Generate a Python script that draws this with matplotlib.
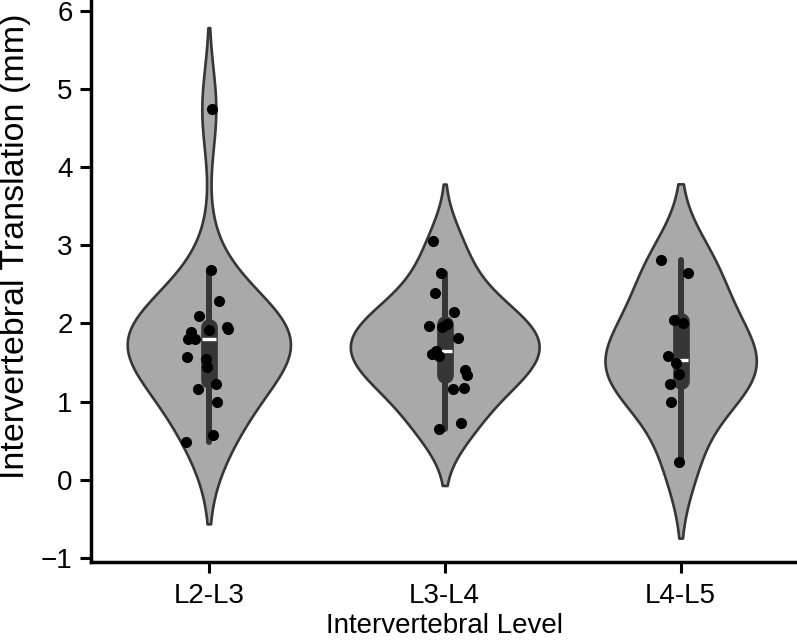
import numpy as np
import pandas as pd
import matplotlib
matplotlib.use("Agg")
import matplotlib.pyplot as plt
import seaborn as sns

# Valores (mm)
niveles = ["L2-L3", "L3-L4", "L4-L5"]
l2_l3 = [2.68, 2.29, 2.09, 1.92, 1.96, 1.93, 1.89, 1.80, 1.80, 1.54,
         1.57, 1.44, 1.23, 1.16, 0.99, 0.57, 0.48, 4.74]
l3_l4 = [3.06, 2.64, 2.39, 2.14, 1.95, 1.97, 1.99, 1.82, 1.65, 1.61,
         1.58, 1.40, 1.34, 1.16, 1.18, 0.73, 0.65]
l4_l5 = [2.81, 2.65, 2.01, 2.04, 1.58, 1.49, 1.35, 1.23, 0.99, 0.23]
yticks = [-1, 0, 1, 2, 3, 4, 5, 6]

df = pd.DataFrame({
    "nivel": ["L2-L3"] * len(l2_l3) + ["L3-L4"] * len(l3_l4) + ["L4-L5"] * len(l4_l5),
    "valor": l2_l3 + l3_l4 + l4_l5,
})

sns.set_style("ticks")
plt.rcParams['font.family'] = ['Liberation Sans', 'DejaVu Sans']
plt.rcParams['text.color'] = 'black'
plt.rcParams['axes.labelcolor'] = 'black'
plt.rcParams['xtick.color'] = 'black'
plt.rcParams['ytick.color'] = 'black'
plt.rcParams['axes.edgecolor'] = 'black'

fig = plt.figure(figsize=(7.97, 6.42), dpi=100)
ax = fig.add_axes([0.114, 0.124, 0.888, 0.874])

sns.violinplot(data=df, x="nivel", y="valor", order=niveles, color="#a9a9a9",
               linecolor="#363636", linewidth=1.9, inner="box",
               inner_kws=dict(box_width=12, whis_width=4.3), ax=ax)

np.random.seed(3)
sns.stripplot(data=df, x="nivel", y="valor", order=niveles, color="black",
              size=8, jitter=True, ax=ax)

ax.set_xlim(-0.5, 2.5)
ax.set_ylim(-1.056, 6.12)
ax.set_yticks(yticks)
ax.set_yticklabels([str(t).replace("-", "\u2212") for t in yticks])
ax.set_xlabel("Intervertebral Level", fontsize=20, labelpad=3)
ax.set_ylabel("Intervertebral Translation (mm)", fontsize=24.5)
ax.yaxis.set_label_coords(-0.084, 0.564)
ax.tick_params(labelsize=20, length=8, width=2.2)
ax.tick_params(axis="x", pad=7)
ax.tick_params(axis="y", pad=5)
for s in ["left", "bottom"]:
    ax.spines[s].set_linewidth(2.5)
sns.despine(ax=ax)

fig.savefig("out.png", dpi=100)
